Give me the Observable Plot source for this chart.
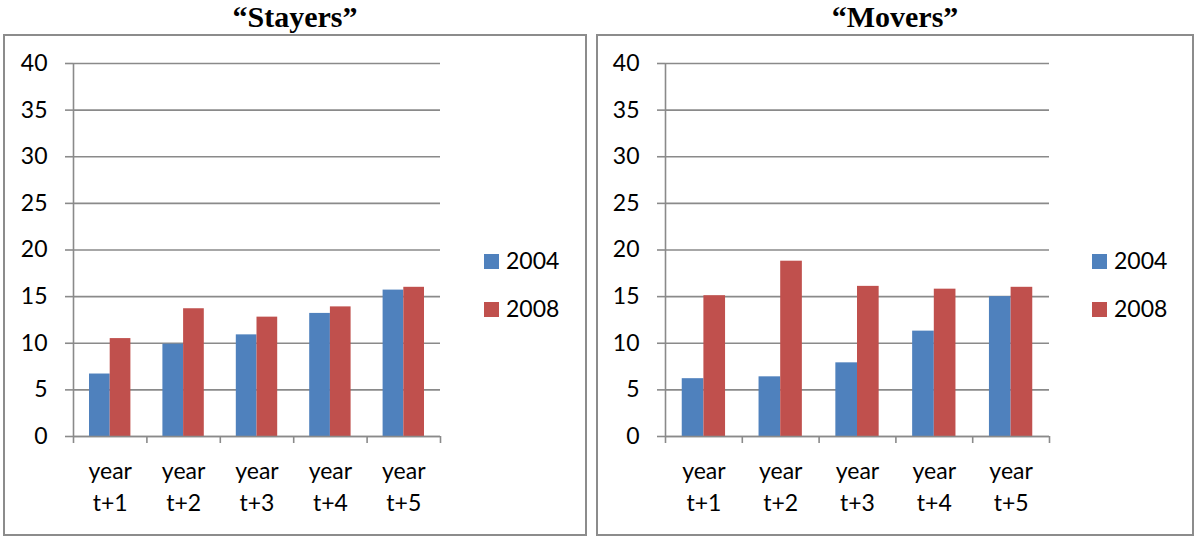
<!DOCTYPE html>
<html>
<head>
<meta charset="utf-8">
<script src="https://cdn.jsdelivr.net/npm/d3@7"></script>
<script src="https://cdn.jsdelivr.net/npm/@observablehq/plot@0.6"></script>
<style>
  html, body { margin: 0; padding: 0; background: #fff; }
  #wrap { position: relative; width: 1194px; height: 536px; overflow: hidden; font-family: Lato, "Open Sans", sans-serif; }
  .title { position: absolute; top: 0; font: bold 30px "Liberation Serif", "Times New Roman", serif; text-align: center; line-height: 34px; color: #000; }
  .box { position: absolute; border: 2px solid #8c8c8c; box-sizing: border-box; }
  .plot { position: absolute; }
  .legend { position: absolute; font: 23px Lato, sans-serif; color: #000; }
  .legend .item { position: absolute; left: 0; white-space: nowrap; height: 30px; line-height: 30px; }
  .legend .sw { display: inline-block; width: 15px; height: 15px; vertical-align: middle; margin-right: 7px; position: relative; top: -2px; }
</style>
</head>
<body>
<div id="wrap"></div>
<script>
// ---- data ----
const categories = ["t+1", "t+2", "t+3", "t+4", "t+5"];
const tickLabels = ["year\nt+1", "year\nt+2", "year\nt+3", "year\nt+4", "year\nt+5"];
const years = ["2004", "2008"];
const yTicks = [0, 5, 10, 15, 20, 25, 30, 35, 40];
const stayers2004 = [6.7, 9.9, 10.9, 13.2, 15.7];
const stayers2008 = [10.5, 13.7, 12.8, 13.9, 16.0];
const movers2004 = [6.2, 6.4, 7.9, 11.3, 15.0];
const movers2008 = [15.1, 18.8, 16.1, 15.8, 16.0];
const titles = ["\u201CStayers\u201D", "\u201CMovers\u201D"];

// ---- styling ----
const colors = ["#4F81BD", "#C0504D"];
const gridColor = "#8a8a8a";
const BAR = 0.282; // bar width as a fraction of a category step

function table(a, b) {
  return categories.flatMap((c, i) => [
    {cat: c, i, year: years[0], value: a[i]},
    {cat: c, i, year: years[1], value: b[i]}
  ]);
}

function chart(data, width, marginRight) {
  return Plot.plot({
    width, height: 501,
    marginLeft: 73, marginRight, marginTop: 29, marginBottom: 99,
    style: {fontFamily: "Lato, sans-serif", fontSize: "23px", color: "#000", background: "transparent"},
    x: {type: "linear", domain: [0, categories.length], axis: null},
    y: {domain: [0, 40], axis: null},
    color: {domain: years, range: colors},
    marks: [
      Plot.ruleY(yTicks, {stroke: gridColor, strokeWidth: 1.6}),
      Plot.rectY(data, {
        x1: d => d.i + 0.5 - (d.year === years[0] ? BAR : 0),
        x2: d => d.i + 0.5 + (d.year === years[1] ? BAR : 0),
        y: "value", fill: "year"
      }),
      Plot.ruleX([0], {stroke: gridColor, strokeWidth: 1.6}),
      Plot.ruleY([0], {stroke: gridColor, strokeWidth: 1.6}),
      Plot.axisY({ticks: yTicks, tickSize: 8, tickPadding: 18, stroke: gridColor, strokeWidth: 1.6, fill: "#000", fontSize: 23, label: null}),
      Plot.axisX({ticks: d3.range(categories.length + 1), tickSize: 7, tickFormat: () => "", stroke: gridColor, strokeWidth: 1.6, label: null}),
      Plot.text(tickLabels, {x: (d, i) => i + 0.5, y: 0, dy: 48, text: d => d, lineHeight: 1.4, fill: "#000", fontSize: 23})
    ]
  });
}

const wrap = document.getElementById("wrap");
const panels = [
  {title: titles[0], box: [3, 34, 584, 502], plotLeft: 0, width: 590, marginRight: 150, data: table(stayers2004, stayers2008), legendLeft: 484},
  {title: titles[1], box: [596, 34, 598, 502], plotLeft: 592, width: 600, marginRight: 143, data: table(movers2004, movers2008), legendLeft: 1092}
];

for (const p of panels) {
  const [bx, by, bw, bh] = p.box;
  const t = document.createElement("div");
  t.className = "title";
  t.style.left = bx + "px"; t.style.width = bw + "px";
  t.textContent = p.title;
  wrap.appendChild(t);

  const b = document.createElement("div");
  b.className = "box";
  b.style.left = bx + "px"; b.style.top = by + "px";
  b.style.width = bw + "px"; b.style.height = bh + "px";
  wrap.appendChild(b);

  const c = document.createElement("div");
  c.className = "plot";
  c.style.left = p.plotLeft + "px"; c.style.top = by + "px";
  c.appendChild(chart(p.data, p.width, p.marginRight));
  wrap.appendChild(c);

  const lg = document.createElement("div");
  lg.className = "legend";
  lg.style.left = p.legendLeft + "px"; lg.style.top = "245px";
  years.forEach((y, k) => {
    const it = document.createElement("div");
    it.className = "item";
    it.style.top = (k * 48) + "px";
    const sw = document.createElement("span");
    sw.className = "sw"; sw.style.background = colors[k];
    it.appendChild(sw);
    it.appendChild(document.createTextNode(y));
    lg.appendChild(it);
  });
  wrap.appendChild(lg);
}
</script>
</body>
</html>
